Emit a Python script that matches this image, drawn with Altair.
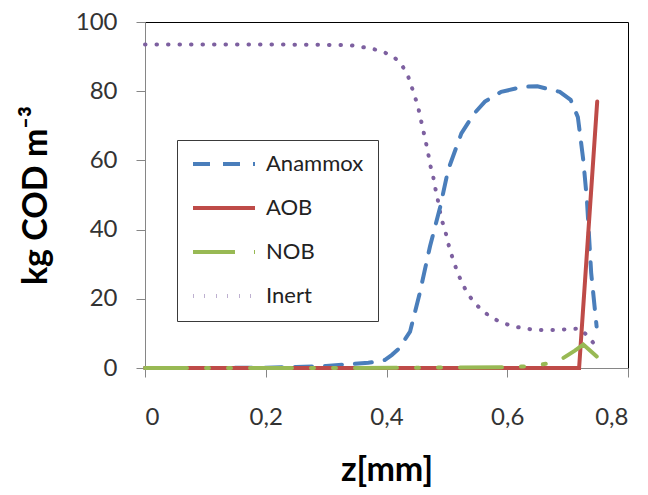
import altair as alt
import pandas as pd

series_order = ["Anammox", "AOB", "NOB", "Inert"]
series_colors = ["#4A7EBB", "#BE4B48", "#98B954", "#7D60A0"]
series_dash = [[17, 13], [1, 0], [42, 19, 3, 19, 3, 19], [0.5, 11]]
draw_order = ["Inert", "Anammox", "AOB", "NOB"]

z_inert = [0, 0.1, 0.2, 0.3, 0.34, 0.359, 0.378, 0.397, 0.414, 0.427, 0.436, 0.442,
           0.448, 0.453, 0.457, 0.461, 0.465, 0.469, 0.472, 0.477, 0.480, 0.484,
           0.491, 0.497, 0.501, 0.506, 0.512, 0.518, 0.526, 0.534, 0.545, 0.559,
           0.574, 0.591, 0.609, 0.627, 0.646, 0.68, 0.72, 0.735, 0.748]
v_inert = [93.5, 93.5, 93.5, 93.4, 93.3, 92.8, 92.2, 91.2, 89.6, 87.1, 84.2, 81.1,
           77.9, 74.9, 71.7, 68.6, 65.4, 62.1, 58.9, 55.7, 52.6, 49.5,
           43.0, 39.9, 36.8, 33.6, 30.5, 27.4, 24.3, 21.6, 19.0, 16.5,
           14.6, 13.1, 12.1, 11.5, 11.0, 11.0, 11.4, 9.0, 6.0]

z_anammox = [0, 0.1, 0.2, 0.25, 0.3, 0.345, 0.37, 0.397, 0.409, 0.42, 0.439, 0.455,
             0.472, 0.489, 0.502, 0.524, 0.545, 0.563, 0.59, 0.627, 0.65, 0.687,
             0.705, 0.717, 0.726, 0.732, 0.739, 0.748]
v_anammox = [0, 0, 0.1, 0.3, 0.6, 1.2, 1.5, 2.3, 3.8, 5.5, 10.5, 21.6,
             35.1, 46.6, 57.2, 67.8, 73.5, 77.0, 79.8, 81.3, 81.4, 79.8,
             77.5, 72.5, 60.0, 48.5, 27.5, 12.0]

z_aob = [0, 0.3, 0.6, 0.719, 0.749]
v_aob = [0, 0, 0, 0, 77]

z_nob = [0, 0.3, 0.6, 0.644, 0.683, 0.712, 0.726, 0.749]
v_nob = [0, 0, 0.2, 0.6, 1.8, 5.0, 6.8, 3.2]

rows = []
for name, zs, vs in [("Inert", z_inert, v_inert), ("Anammox", z_anammox, v_anammox),
                     ("AOB", z_aob, v_aob), ("NOB", z_nob, v_nob)]:
    for i, (a, b) in enumerate(zip(zs, vs)):
        rows.append({"series": name, "z": a, "v": b, "i": i})
df = pd.DataFrame(rows)

FONT = "Lato"

leg = dict(orient="none", legendX=32, legendY=118, title=None)

base = alt.Chart(df).mark_line(strokeWidth=4, strokeCap="round").encode(
    x=alt.X("z:Q", scale=alt.Scale(domain=[0, 0.8], nice=False),
            axis=alt.Axis(values=[0, 0.2, 0.4, 0.6, 0.8],
                          labelExpr="replace(format(datum.value, '.1~f'), '.', ',')",
                          title="z[mm]", tickSize=9, labelPadding=28,
                          titlePadding=24, grid=False)),
    y=alt.Y("v:Q", scale=alt.Scale(domain=[0, 100], nice=False),
            axis=alt.Axis(values=[0, 20, 40, 60, 80, 100], title="kg COD m⁻³",
                          tickSize=9, labelPadding=19, titlePadding=22, grid=False)),
    color=alt.Color("series:N", scale=alt.Scale(domain=series_order, range=series_colors),
                    legend=alt.Legend(symbolType="stroke", symbolSize=3844,
                                      symbolStrokeWidth=4, labelFontSize=22,
                                      labelFont=FONT, labelColor="#222222",
                                      labelOffset=9, rowPadding=22, padding=14,
                                      clipHeight=20,
                                      strokeColor="#3a3a3a", fillColor="white", **leg)),
    strokeDash=alt.StrokeDash("series:N",
                              scale=alt.Scale(domain=series_order, range=series_dash),
                              legend=alt.Legend(**leg)),
    order="i:Q",
)

layers = [base.transform_filter(alt.datum.series == s) for s in draw_order]

chart = alt.layer(*layers).properties(
    width=483, height=346,
    background="white",
    autosize=alt.AutoSizeParams(type="none"),
    padding={"left": 145, "top": 22, "right": 20, "bottom": 127},
).configure_view(
    stroke="#000000", strokeWidth=1
).configure_axis(
    domainColor="#868686", tickColor="#868686", labelColor="#333333",
    labelFont=FONT, labelFontSize=24, titleFont=FONT, titleFontSize=34,
    titleFontWeight="bold", titleColor="#000000"
)

chart.save("out.html", embed_options={"renderer": "svg", "actions": False})
